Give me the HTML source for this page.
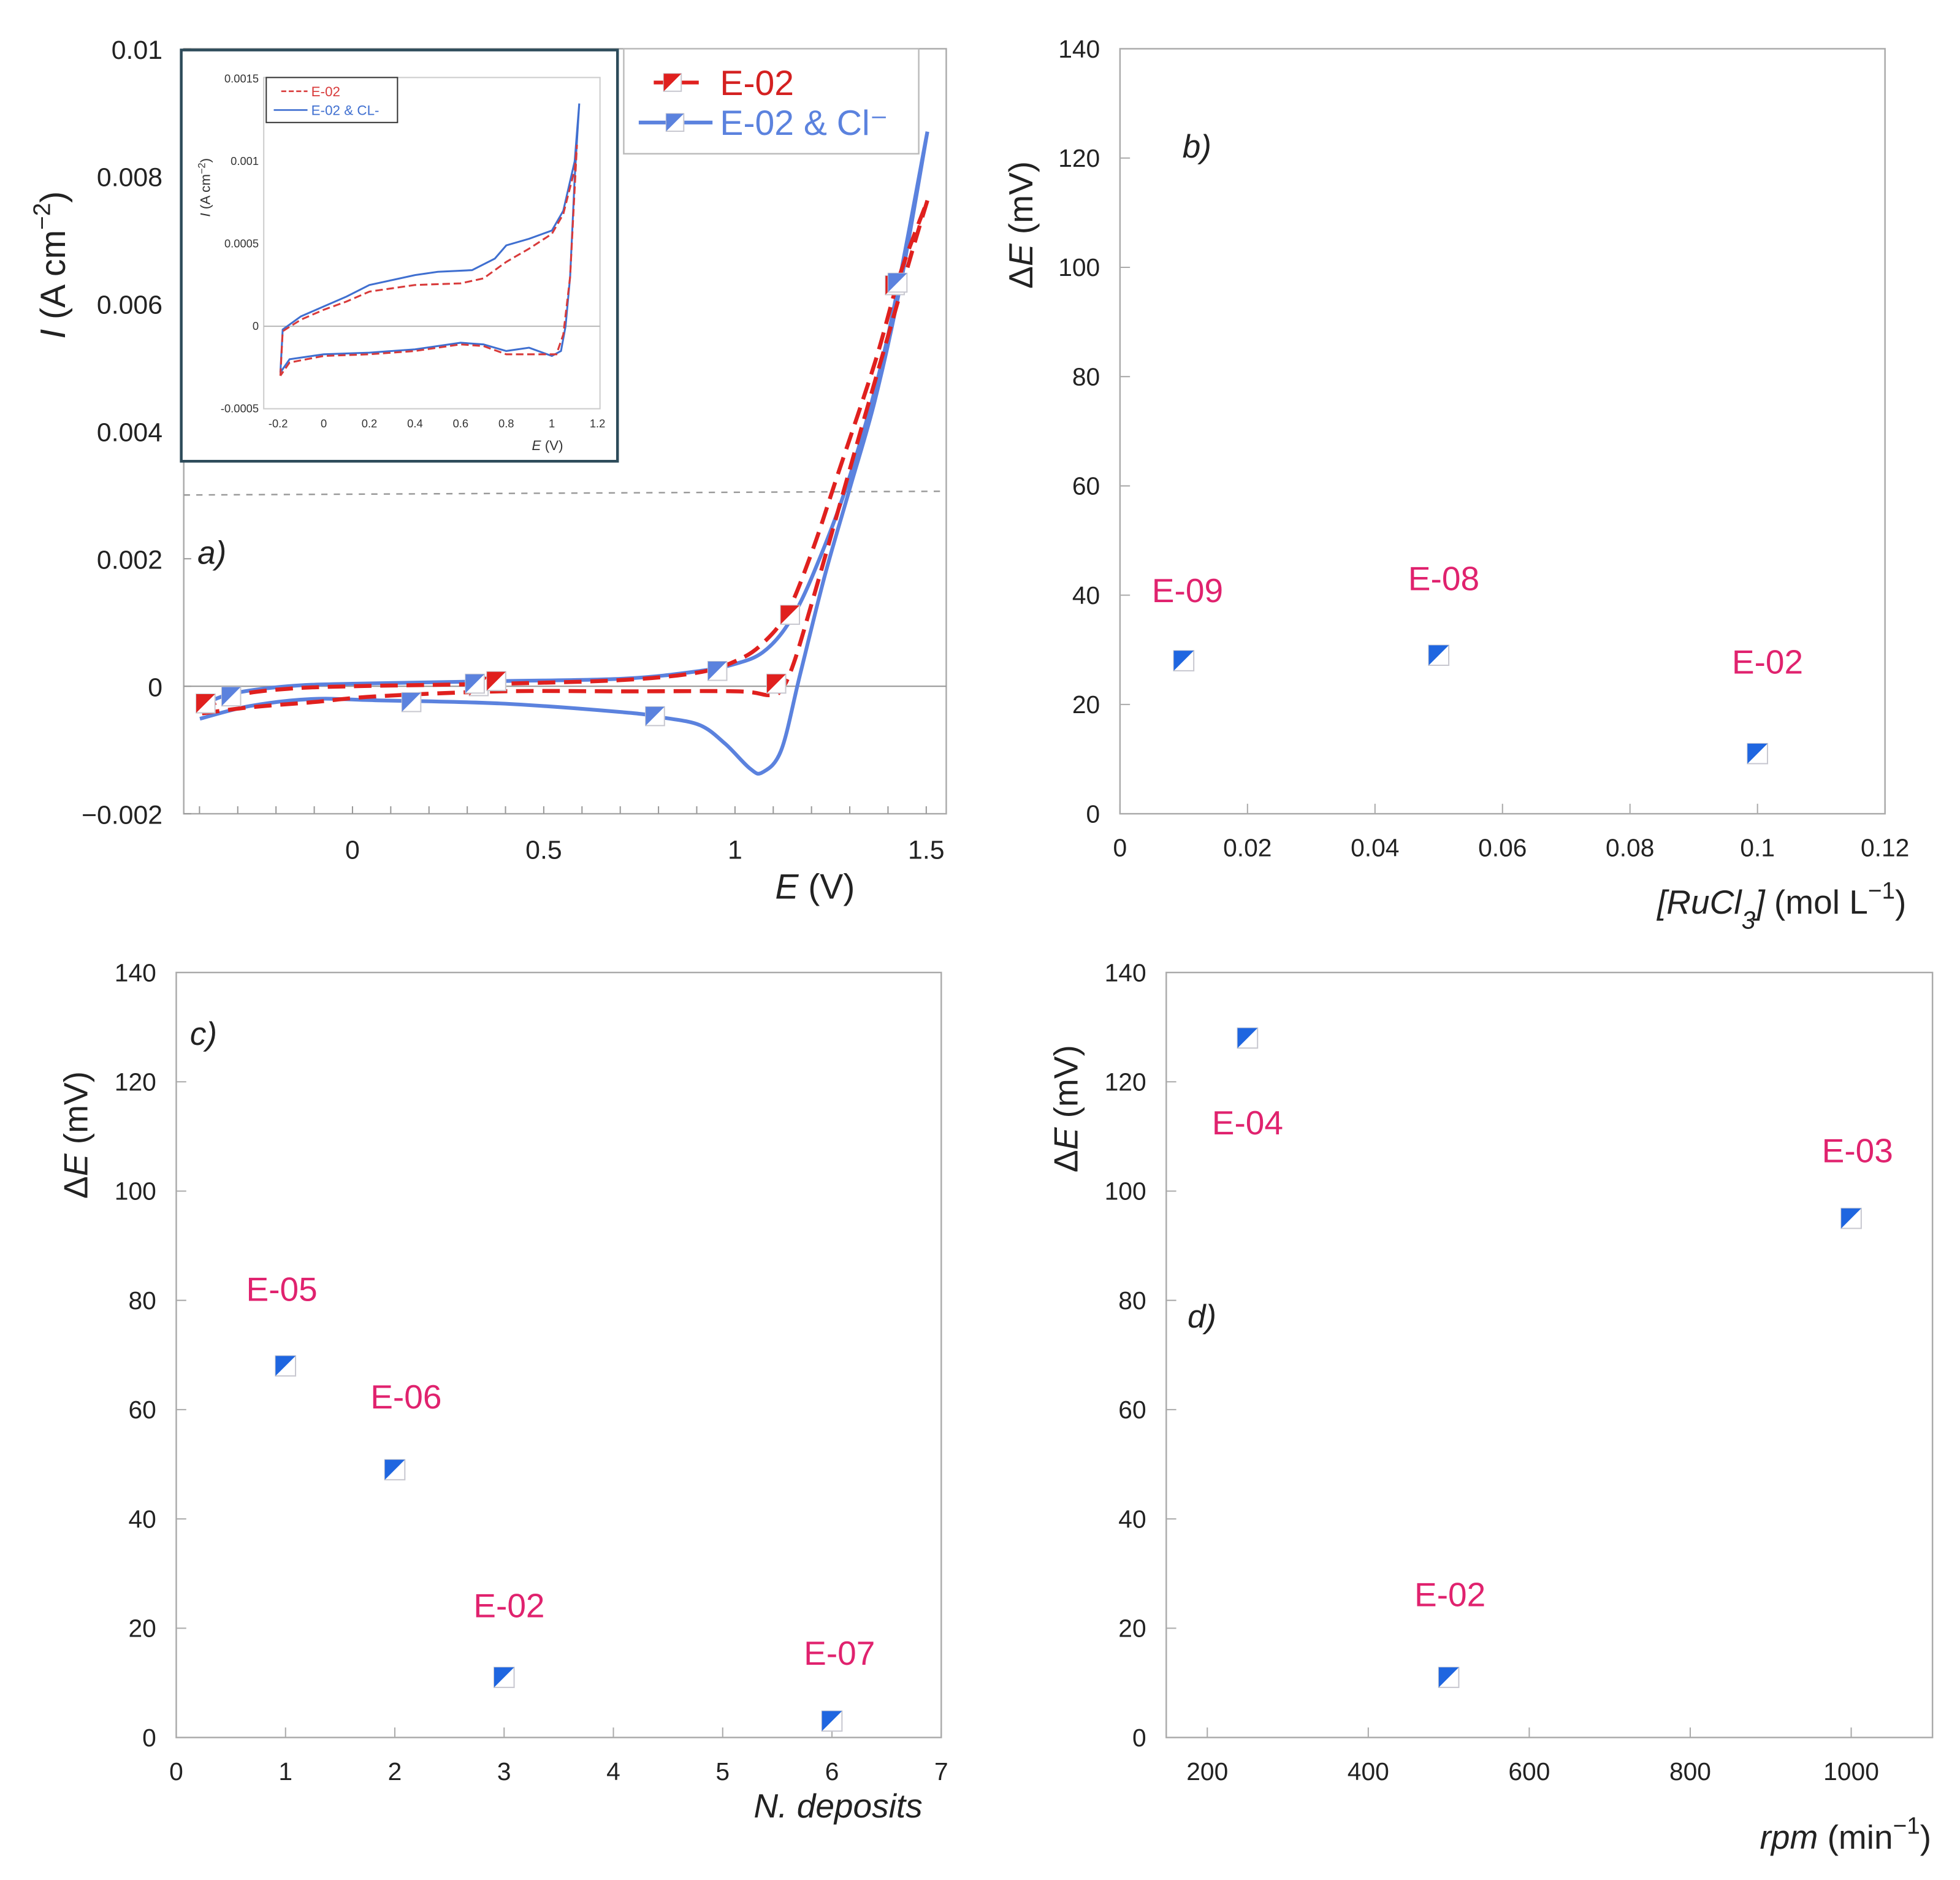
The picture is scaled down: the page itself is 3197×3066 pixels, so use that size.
<!DOCTYPE html>
<html><head><meta charset="utf-8"><title>CV and ΔE panels</title>
<style>html,body{margin:0;padding:0;background:#fff}svg{display:block}text{font-family:"Liberation Sans",Arial,sans-serif}</style></head>
<body>
<svg id="fig" xmlns="http://www.w3.org/2000/svg" width="3197" height="3066" viewBox="0 0 1568 1504" preserveAspectRatio="none"></svg>
<script>
// ---------- Panel a data (E in V, I in A cm^-2) ----------
const blueFwdE = [-0.399,-0.317,-0.170,0,0.386,0.712,0.908,1.0,1.072,1.137,1.203,1.301,1.399,1.503];
const blueFwdI = [-0.00031,-0.00012,0,0.00004,0.00008,0.00012,0.00024,0.00035,0.00053,0.00096,0.00174,0.00331,0.00547,0.00870];
const blueRevE = [1.503,1.431,1.366,1.301,1.235,1.170,1.121,1.072,1.039,0.974,0.908,0.810,0.712,0.386,0.059,-0.105,-0.268,-0.399];
const blueRevI = [0.00870,0.00625,0.00449,0.00312,0.00174,0.00018,-0.00100,-0.00135,-0.00129,-0.00090,-0.00061,-0.00049,-0.00041,-0.00027,-0.00022,-0.00020,-0.00031,-0.00051];
const redFwdE = [-0.399,-0.301,-0.170,0,0.386,0.712,0.908,1.007,1.072,1.137,1.203,1.268,1.366,1.431,1.503];
const redFwdI = [-0.00037,-0.00014,-0.00004,0,0.00004,0.0001,0.00022,0.00041,0.00067,0.00116,0.00214,0.00331,0.00508,0.00645,0.00762];
const redRevE = [1.503,1.464,1.399,1.333,1.268,1.203,1.154,1.121,1.088,1.007,0.712,0.386,0.059,-0.105,-0.268,-0.399];
const redRevI = [0.00762,0.00684,0.00547,0.0041,0.00272,0.00135,0.00037,-0.00006,-0.00014,-0.00008,-0.00008,-0.00008,-0.00016,-0.00025,-0.00033,-0.00043];
const redMarkE = [-0.384,0.330,0.376,1.108,1.144,1.418];
const redMarkI = [-0.00027,0,0.00008,0.00004,0.00112,0.00629];
const blueMarkE = [-0.317,0.154,0.320,0.791,0.954,1.425];
const blueMarkI = [-0.00016,-0.00025,0.00004,-0.00047,0.00024,0.00633];
const aXTicks = [0,0.5,1,1.5];
const aXTickLabels = ["0","0.5","1","1.5"];
const aYTicks = [-0.002,0,0.002,0.004,0.006,0.008,0.01];
const aYTickLabels = ["-0.002","0","0.002","0.004","0.006","0.008","0.01"];
// ---------- Inset data ----------
const inBlueE = [-0.19,-0.18,-0.1,0,0.1,0.2,0.3,0.4,0.5,0.65,0.75,0.8,0.9,1.0,1.05,1.1,1.12,1.1,1.08,1.06,1.04,1.0,0.9,0.8,0.7,0.6,0.4,0.2,0,-0.15,-0.19,-0.19];
const inBlueI = [-0.00028,-0.00002,0.00006,0.00012,0.00018,0.00025,0.00028,0.00031,0.00033,0.00034,0.00041,0.00049,0.00053,0.00058,0.0007,0.0010,0.00135,0.0009,0.0003,0,-0.00015,-0.00018,-0.00013,-0.00015,-0.00011,-0.0001,-0.00014,-0.00016,-0.00017,-0.0002,-0.00028,-0.00028];
const inRedE = [-0.19,-0.18,-0.1,0,0.1,0.2,0.3,0.4,0.6,0.7,0.8,0.9,1.0,1.05,1.1,1.11,1.08,1.05,1.02,0.9,0.8,0.7,0.6,0.4,0.2,0,-0.15,-0.19];
const inRedI = [-0.0003,-0.00003,0.00004,0.0001,0.00015,0.00021,0.00023,0.00025,0.00026,0.00029,0.00039,0.00047,0.00056,0.00068,0.00095,0.0011,0.0003,-0.00005,-0.00017,-0.00017,-0.00017,-0.00012,-0.00011,-0.00015,-0.00017,-0.00018,-0.00022,-0.0003];
const inXTicks = [-0.2,0,0.2,0.4,0.6,0.8,1,1.2];
const inXTickLabels = ["-0.2","0","0.2","0.4","0.6","0.8","1","1.2"];
const inYTicks = [-0.0005,0,0.0005,0.001,0.0015];
const inYTickLabels = ["-0.0005","0","0.0005","0.001","0.0015"];
// ---------- Panel b ----------
const bX = [0.01,0.05,0.1];
const bY = [28,29,11];
const bLabels = ["E-09","E-08","E-02"];
const bXTicks = [0,0.02,0.04,0.06,0.08,0.1,0.12];
const bXTickLabels = ["0","0.02","0.04","0.06","0.08","0.1","0.12"];
// ---------- Panel c ----------
const cX = [1,2,3,6];
const cY = [68,49,11,3];
const cLabels = ["E-05","E-06","E-02","E-07"];
const cXTicks = [0,1,2,3,4,5,6,7];
const cXTickLabels = ["0","1","2","3","4","5","6","7"];
// ---------- Panel d ----------
const dX = [250,500,1000];
const dY = [128,11,95];
const dLabels = ["E-04","E-02","E-03"];
const dXTicks = [200,400,600,800,1000];
const dXTickLabels = ["200","400","600","800","1000"];
const dEYTicks = [0,20,40,60,80,100,120,140];
const dEYTickLabels = ["0","20","40","60","80","100","120","140"];

const NS="http://www.w3.org/2000/svg";
const svg=document.getElementById('fig');
function mk(tag,attrs,parent,txt){const e=document.createElementNS(NS,tag);for(const k in attrs)e.setAttribute(k,attrs[k]);if(txt!==undefined)e.textContent=txt;(parent||svg).appendChild(e);return e;}
function scale(d0,d1,r0,r1){return v=>r0+(v-d0)/(d1-d0)*(r1-r0);}
function pathFrom(xs,ys,sx,sy){return xs.map((x,i)=>(i?'L':'M')+sx(x).toFixed(2)+' '+sy(ys[i]).toFixed(2)).join(' ');}
function smoothFrom(xs,ys,sx,sy){
  const p=xs.map((x,i)=>[sx(x),sy(ys[i])]);
  let d='M'+p[0][0].toFixed(2)+' '+p[0][1].toFixed(2);
  for(let i=0;i<p.length-1;i++){
    const p0=p[Math.max(0,i-1)],p1=p[i],p2=p[i+1],p3=p[Math.min(p.length-1,i+2)];
    const c1=[p1[0]+(p2[0]-p0[0])/6,p1[1]+(p2[1]-p0[1])/6];
    const c2=[p2[0]-(p3[0]-p1[0])/6,p2[1]-(p3[1]-p1[1])/6];
    d+=` C${c1[0].toFixed(2)} ${c1[1].toFixed(2)} ${c2[0].toFixed(2)} ${c2[1].toFixed(2)} ${p2[0].toFixed(2)} ${p2[1].toFixed(2)}`;
  }
  return d;
}
function marker(g,cx,cy,s,col,name){
  const m=mk('g',{},g);
  
  
  mk('rect',{x:cx-s/2,y:cy-s/2,width:s,height:s,fill:'#fff',stroke:'#c8c8d0','stroke-width':1},m);
  mk('polygon',{points:`${cx-s/2},${cy-s/2} ${cx+s/2},${cy-s/2} ${cx-s/2},${cy+s/2}`,fill:col},m);
}

// ===== Panel a =====
(function(){
  const g=mk('g',{});
  
  
  const L=147,R=757,T=39,B=651;
  const sx=scale(0,1,282,588), sy=scale(0,0.01,549,39);
  mk('rect',{x:L,y:T,width:R-L,height:B-T,fill:'none',stroke:'#aaa','stroke-width':1.2},g);
  mk('line',{x1:L,y1:sy(0),x2:R,y2:sy(0),stroke:'#999','stroke-width':1},g);
  const dl=mk('line',{x1:L,y1:396,x2:R,y2:393,stroke:'#999','stroke-width':1.2,'stroke-dasharray':'5 5'},g);
  
  for(let v=-0.4;v<=1.51;v+=0.1){const x=sx(v);mk('line',{x1:x,y1:B,x2:x,y2:B-6,stroke:'#999','stroke-width':1},g);}
  aXTicks.forEach((v,i)=>{const t=mk('text',{x:sx(v),y:687,'font-size':21,'text-anchor':'middle',fill:'#222'},g,aXTickLabels[i]);});
  aYTicks.forEach((v,i)=>{mk('line',{x1:L,y1:sy(v),x2:L+6,y2:sy(v),stroke:'#999'},g);const t=mk('text',{x:130,y:sy(v)+8,'font-size':21,'text-anchor':'end',fill:'#222'},g,aYTickLabels[i].replace('-','\u2212'));});
  const xt=mk('text',{x:652,y:719,'font-size':28,'text-anchor':'middle',fill:'#222'},g);
  
  mk('tspan',{'font-style':'italic'},xt,'E');mk('tspan',{},xt,' (V)');
  const yt=mk('text',{transform:'translate(52,212) rotate(-90)','font-size':28,'text-anchor':'middle',fill:'#222'},g);
  
  mk('tspan',{'font-style':'italic'},yt,'I');mk('tspan',{},yt,' (A cm');mk('tspan',{dy:-12,'font-size':19},yt,'\u22122');mk('tspan',{dy:12},yt,')');
  const pl=mk('text',{x:158,y:451,'font-size':26,'font-style':'italic',fill:'#222'},g,'a)');
  
  const bf=mk('path',{d:smoothFrom(blueFwdE,blueFwdI,sx,sy)+' '+smoothFrom(blueRevE,blueRevI,sx,sy),fill:'none',stroke:'#5b82de','stroke-width':3,'stroke-linejoin':'round'},g);
  
  const rf=mk('path',{d:smoothFrom(redFwdE,redFwdI,sx,sy)+' '+smoothFrom(redRevE,redRevI,sx,sy),fill:'none',stroke:'#e0201e','stroke-width':3.2,'stroke-dasharray':'14 7','stroke-linejoin':'round'},g);
  
  redMarkE.forEach((e,i)=>marker(g,sx(e),sy(redMarkI[i]),15,'#e0201e','e02-marker'));
  blueMarkE.forEach((e,i)=>marker(g,sx(e),sy(blueMarkI[i]),15,'#5b82de','e02-cl-marker'));
  // legend
  const lg=mk('g',{},g);
  
  
  mk('rect',{x:499,y:39,width:236,height:84,fill:'#fff',stroke:'#bbb','stroke-width':1.2},lg);
  mk('line',{x1:523,y1:66,x2:565,y2:66,stroke:'#e0201e','stroke-width':3,'stroke-dasharray':'14 8'},lg);
  marker(lg,538,66,14,'#e0201e','legend-marker-e02');
  const l1=mk('text',{x:576,y:76,'font-size':28,fill:'#d42020'},lg,'E-02');
  mk('line',{x1:511,y1:98,x2:570,y2:98,stroke:'#5b82de','stroke-width':3},lg);
  marker(lg,540,98,14,'#5b82de','legend-marker-e02-cl');
  const l2=mk('text',{x:576,y:108,'font-size':28,fill:'#5b82de'},lg,'E-02 & Cl\u207B');
  // inset
  const ig=mk('g',{},g);
  
  
  mk('rect',{x:145,y:40,width:349,height:329,fill:'#fff',stroke:'#2d4b5a','stroke-width':2.2},ig);
  const iL=211,iR=480,iT=62,iB=327;
  const ix=scale(0,0.2,259,295.5), iy=scale(0,0.0005,261,195);
  mk('rect',{x:iL,y:iT,width:iR-iL,height:iB-iT,fill:'none',stroke:'#ccc','stroke-width':1},ig);
  mk('line',{x1:iL,y1:iy(0),x2:iR,y2:iy(0),stroke:'#bbb','stroke-width':1},ig);
  inXTicks.forEach((v,i)=>{const t=mk('text',{x:ix(v),y:342,'font-size':9,'text-anchor':'middle',fill:'#333'},ig,inXTickLabels[i]);});
  inYTicks.forEach((v,i)=>{const t=mk('text',{x:207,y:iy(v)+3,'font-size':9,'text-anchor':'end',fill:'#333'},ig,inYTickLabels[i]);});
  const ixt=mk('text',{x:438,y:360,'font-size':11,'text-anchor':'middle',fill:'#333'},ig);
  mk('tspan',{'font-style':'italic'},ixt,'E');mk('tspan',{},ixt,' (V)');
  const iyt=mk('text',{transform:'translate(168,150) rotate(-90)','font-size':11,'text-anchor':'middle',fill:'#333'},ig);
  mk('tspan',{'font-style':'italic'},iyt,'I');mk('tspan',{},iyt,' (A cm');mk('tspan',{dy:-4,'font-size':8},iyt,'\u22122');mk('tspan',{dy:4},iyt,')');
  const ib=mk('path',{d:pathFrom(inBlueE,inBlueI,ix,iy),fill:'none',stroke:'#3f6fd0','stroke-width':1.5},ig);
  const ir=mk('path',{d:pathFrom(inRedE,inRedI,ix,iy),fill:'none',stroke:'#d83a3a','stroke-width':1.5,'stroke-dasharray':'6 3'},ig);
  const ilg=mk('g',{},ig);
  mk('rect',{x:213,y:62,width:105,height:36,fill:'#fff',stroke:'#333','stroke-width':1},ilg);
  mk('line',{x1:225,y1:73,x2:246,y2:73,stroke:'#d83a3a','stroke-width':1.3,'stroke-dasharray':'4 2'},ilg);
  mk('text',{x:249,y:77,'font-size':11,fill:'#d83a3a'},ilg,'E-02');
  mk('line',{x1:219,y1:88,x2:246,y2:88,stroke:'#3f6fd0','stroke-width':1.3},ilg);
  mk('text',{x:249,y:92,'font-size':11,fill:'#3f6fd0'},ilg,'E-02 & CL-');
})();

// ===== Scatter panels =====
function scatterPanel(o){
  const g=mk('g',{});
  
  
  const sx=scale(o.xd[0],o.xd[1],o.L,o.R), sy=scale(0,140,o.B,o.T);
  mk('rect',{x:o.L,y:o.T,width:o.R-o.L,height:o.B-o.T,fill:'none',stroke:'#aaa','stroke-width':1.2},g);
  dEYTicks.forEach((v,i)=>{mk('line',{x1:o.L,y1:sy(v),x2:o.L+8,y2:sy(v),stroke:'#aaa'},g);const t=mk('text',{x:o.L-16,y:sy(v)+7,'font-size':20,'text-anchor':'end',fill:'#222'},g,dEYTickLabels[i]);});
  o.xt.forEach((v,i)=>{mk('line',{x1:sx(v),y1:o.B,x2:sx(v),y2:o.B-8,stroke:'#aaa'},g);const t=mk('text',{x:sx(v),y:o.B+34,'font-size':20,'text-anchor':'middle',fill:'#222'},g,o.xl[i]);});
  const yt=mk('text',{transform:`translate(${o.ytx},${o.yty}) rotate(-90)`,'font-size':27,'text-anchor':'middle',fill:'#222'},g);
  
  mk('tspan',{},yt,'\u0394');mk('tspan',{'font-style':'italic'},yt,'E');mk('tspan',{},yt,' (mV)');
  const pl=mk('text',{x:o.plx,y:o.ply,'font-size':26,'font-style':'italic',fill:'#222'},g,o.pl);
  
  o.xs.forEach((x,i)=>{
    marker(g,sx(x),sy(o.ys[i]),16,'#1f66e0','data-point');
    const t=mk('text',{x:sx(x)+o.lo[i][0],y:sy(o.ys[i])+o.lo[i][1],'font-size':27,'text-anchor':'middle',fill:'#e0226e'},g,o.labels[i]);
    
  });
  o.title(g);
  return g;
}
scatterPanel({name:'panel-b',L:896,R:1508,T:39,B:651,xd:[0,0.12],xt:bXTicks,xl:bXTickLabels,xs:bX,ys:bY,labels:bLabels,
  lo:[[3,-47],[4,-52],[8,-64]],pl:'b)',plx:946,ply:126,ytx:826,yty:180,
  title:g=>{const t=mk('text',{x:1525,y:731,'font-size':27,'text-anchor':'end',fill:'#222'},g);
    mk('tspan',{'font-style':'italic'},t,'[RuCl');mk('tspan',{'font-style':'italic',dy:12,'font-size':20},t,'3');mk('tspan',{'font-style':'italic',dy:-12},t,']');
    mk('tspan',{},t,' (mol L');mk('tspan',{dy:-12,'font-size':19},t,'\u22121');mk('tspan',{dy:12},t,')');}});
scatterPanel({name:'panel-c',L:141,R:753,T:778,B:1390,xd:[0,7],xt:cXTicks,xl:cXTickLabels,xs:cX,ys:cY,labels:cLabels,
  lo:[[-3,-52],[9,-49],[4,-48],[6,-45]],pl:'c)',plx:152,ply:836,ytx:70,yty:908,
  title:g=>{const t=mk('text',{x:738,y:1454,'font-size':27,'text-anchor':'end','font-style':'italic',fill:'#222'},g,'N. deposits');}});
scatterPanel({name:'panel-d',L:933,R:1546,T:778,B:1390,xd:[149,1101],xt:dXTicks,xl:dXTickLabels,xs:dX,ys:dY,labels:dLabels,
  lo:[[0,77],[1,-57],[5,-45]],pl:'d)',plx:950,ply:1062,ytx:862,yty:887,
  title:g=>{const t=mk('text',{x:1545,y:1479,'font-size':27,'text-anchor':'end',fill:'#222'},g);
    mk('tspan',{'font-style':'italic'},t,'rpm');mk('tspan',{},t,' (min');mk('tspan',{dy:-12,'font-size':19},t,'\u22121');mk('tspan',{dy:12},t,')');}});
</script>
</body></html>
